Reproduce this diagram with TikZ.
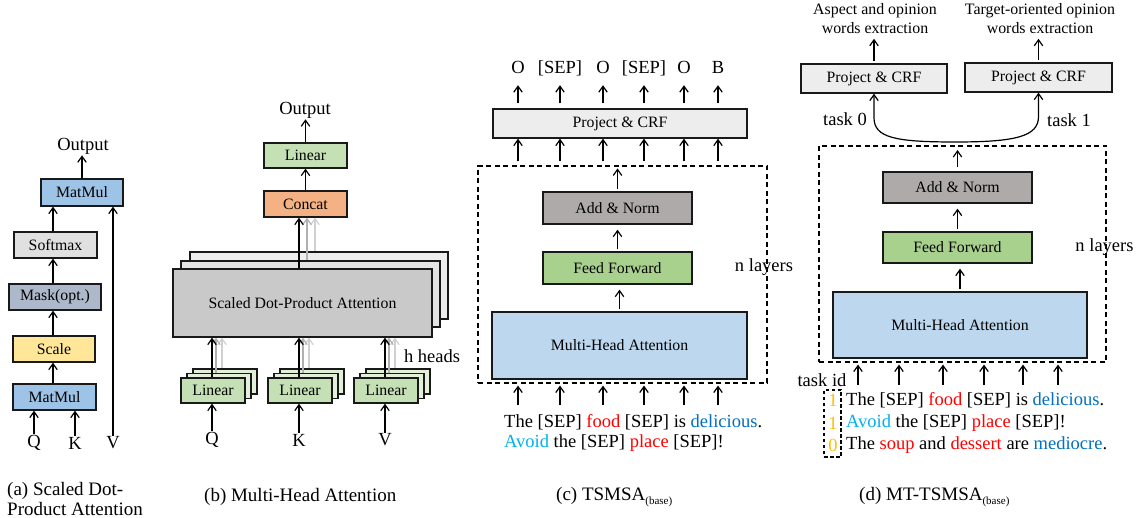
\documentclass[tikz,border=0pt]{standalone}
\usepackage{fontspec}
\setmainfont{Liberation Serif}
\usetikzlibrary{arrows.meta}
\definecolor{cMat}{HTML}{9DC3E6}
\definecolor{cSoft}{HTML}{E0E0E0}
\definecolor{cMask}{HTML}{ADB9CA}
\definecolor{cScale}{HTML}{FFE699}
\definecolor{cLin}{HTML}{C5E0B4}
\definecolor{cLinL}{HTML}{E2F0D9}
\definecolor{cCat}{HTML}{F4B183}
\definecolor{cSA}{HTML}{C9C9C9}
\definecolor{cSB}{HTML}{E4E4E4}
\definecolor{cSC}{HTML}{EDEDED}
\definecolor{cPC}{HTML}{EDEDED}
\definecolor{cAN}{HTML}{AEAAAA}
\definecolor{cFF}{HTML}{A9D18E}
\definecolor{cMHA}{HTML}{BDD7EE}
\definecolor{cRed}{HTML}{FF0000}
\definecolor{cBlue}{HTML}{0070C0}
\definecolor{cCyan}{HTML}{00B0F0}
\definecolor{cOrange}{HTML}{FFC000}
\definecolor{gOne}{HTML}{B0B0B0}
\definecolor{gTwo}{HTML}{D0D0D0}
\newcommand\blkfont{\fontsize{15.8}{18}\selectfont}
\newcommand\lblfont{\fontsize{18.5}{21.5}\selectfont}
\newcommand\hdfont{\fontsize{15.9}{19}\selectfont}
\newcommand\capfont{\fontsize{19}{20}\selectfont}
\tikzset{
  tip/.tip={Straight Barb[length=6pt,width=8.5pt,line width=1.2pt]},
  blk/.style={draw=black!90, line width=1.35pt, inner sep=0pt, font=\blkfont},
  arr/.style={-tip, line width=1.2pt},
  iarr/.style={arr, shorten <=2pt, shorten >=5pt},
  lbl/.style={font=\lblfont, inner sep=1pt},
  dbox/.style={draw, line width=1.1pt, dash pattern=on 5pt off 3.5pt},
  olbl/.style={lbl, text height=13pt, text depth=4pt, anchor=base}
}
\begin{document}
\begin{tikzpicture}[x=1pt,y=-1pt]
\useasboundingbox[fill=white] (0,0) rectangle (1144,518);

% ---------------- (a) ----------------
\node[lbl] (aout) at (83,146) {Output};
\node[blk, fill=cMat, minimum width=82pt, minimum height=27pt] (amm2) at (82,192.5) {MatMul};
\node[blk, fill=cSoft, minimum width=83pt, minimum height=26pt] (asm) at (55.5,245) {Softmax};
\node[blk, fill=cMask, minimum width=92pt, minimum height=26pt] (amk) at (55,297) {Mask(opt.)};
\node[blk, fill=cScale, minimum width=82pt, minimum height=26pt] (asc) at (54,349) {Scale};
\node[blk, fill=cMat, minimum width=83pt, minimum height=26pt] (amm1) at (54.5,397) {MatMul};
\node[lbl] (aq) at (34,443) {Q};
\node[lbl] (ak) at (75,443) {K};
\node[lbl] (av) at (113,443) {V};
\coordinate (acol) at (53,0);
\draw[arr] (amm2.north) -- (amm2.north |- aout.south);
\draw[arr] (asm.north -| acol) -- (amm2.south -| acol);
\draw[arr] (amk.north -| acol) -- (asm.south -| acol);
\draw[arr] (asc.north -| acol) -- (amk.south -| acol);
\draw[arr] (amm1.north -| acol) -- (asc.south -| acol);
\draw[arr] (aq.north) -- (aq.north |- amm1.south);
\draw[arr] (ak.north) -- (ak.north |- amm1.south);
\draw[arr] (av.north) -- (av.north |- amm2.south);
\node[lbl, anchor=west, align=left, font=\capfont] (capa) at (6,499) {(a) Scaled Dot-\\Product Attention};

% ---------------- (b) ----------------
\node[lbl] (bout) at (305,110) {Output};
\node[blk, fill=cLin, minimum width=83pt, minimum height=25pt] (blin) at (305.5,155.5) {Linear};
\node[blk, fill=cCat, minimum width=83pt, minimum height=26pt] (bcat) at (305.5,204) {Concat};
\node[blk, fill=cSC, minimum width=258pt, minimum height=67pt] (bs3) at (319,285.5) {};
\node[blk, fill=cSB, minimum width=259pt, minimum height=66pt] (bs2) at (310.5,294) {};
\node[blk, fill=cSA, minimum width=259pt, minimum height=68pt] (bs1) at (302.5,303) {Scaled Dot-Product Attention};
\foreach \n/\cx/\t in {q/213/Q,k/300/K,v/386/V}{
  \node[blk, fill=cLinL, minimum width=64pt, minimum height=25pt] (bl\n3) at (\cx+12,381.5) {};
  \node[blk, fill=cLinL, minimum width=64pt, minimum height=25pt] (bl\n2) at (\cx+6,386) {};
  \node[blk, fill=cLin, minimum width=64pt, minimum height=25pt] (bl\n1) at (\cx,390.5) {Linear};
  \node[lbl] (b\n) at (\cx-1,440) {\t};
  \draw[arr] (b\n.north) -- (b\n.north |- bl\n1.south);
  \draw[arr, gTwo] ([xshift=-3pt]bl\n3.north) -- ([xshift=-3pt]bl\n3.north |- bs1.south);
  \draw[arr, gOne] ([xshift=-3pt]bl\n2.north) -- ([xshift=-3pt]bl\n2.north |- bs1.south);
  \draw[arr] ([xshift=-1pt]bl\n1.north) -- ([xshift=-1pt]bl\n1.north |- bs1.south);
}
\draw[arr, gTwo] ([xshift=-4pt]bs3.north) -- ([xshift=-4pt]bs3.north |- bcat.south);
\draw[arr, gOne] ([xshift=-3.5pt]bs2.north) -- ([xshift=-3.5pt]bs2.north |- bcat.south);
\draw[arr] ([xshift=-3.5pt]bs1.north) -- ([xshift=-3.5pt]bs1.north |- bcat.south);
\draw[arr] (bcat.north) -- (blin.south);
\draw[arr] (blin.north) -- (blin.north |- bout.south);
\node[lbl] (bh) at (432,356) {h heads};
\node[lbl, anchor=west, font=\capfont] (capb) at (203,497) {(b) Multi-Head Attention};

% ---------------- (c) ----------------
\node[dbox, minimum width=289pt, minimum height=217pt] (cdash) at (622.5,274.5) {};
\node[blk, fill=cPC, minimum width=254pt, minimum height=29pt] (cpc) at (620,123.5) {Project \& CRF};
\node[blk, fill=cAN, minimum width=149pt, minimum height=32pt] (can) at (617.5,208) {Add \& Norm};
\node[blk, fill=cFF, minimum width=149pt, minimum height=32pt] (cff) at (617.5,268) {Feed Forward};
\node[blk, fill=cMHA, minimum width=255pt, minimum height=67pt] (cmha) at (619.5,345.5) {Multi-Head Attention};
\foreach \i/\x/\t in {1/518/O,2/560/{[SEP]},3/603/O,4/644/{[SEP]},5/684/O,6/718/B}{
  \coordinate (cc\i) at (\x,405);
  \node[olbl] (co\i) at (\x,74) {\t};
  \draw[arr, shorten >=2pt] (cc\i) -- (cc\i |- cdash.south);
  \draw[arr, shorten <=4pt] (cdash.north -| cc\i) -- (cpc.south -| cc\i);
  \draw[arr, shorten <=5pt, shorten >=6pt] (cpc.north -| cc\i) -- (co\i.south -| cc\i);
}
\draw[arr, shorten <=2pt, shorten >=3pt] (can.north) -- (can.north |- cdash.north);
\draw[iarr] (cff.north) -- (cff.north |- can.south);
\draw[iarr] (cmha.north) -- (cmha.north |- cff.south);
\node[lbl] (cn) at (764,267) {n layers};
\node[lbl, anchor=west] (ct1) at (503,422) {The [SEP] \textcolor{cRed}{food} [SEP] is \textcolor{cBlue}{delicious}.};
\node[lbl, anchor=west] (ct2) at (503,443) {\textcolor{cCyan}{Avoid} the [SEP] \textcolor{cRed}{place} [SEP]!};
\node[lbl, anchor=west, font=\capfont] (capc) at (555,497) {(c) TSMSA\raisebox{-4pt}{\fontsize{11}{12}\selectfont (base)}};

% ---------------- (d) ----------------
\node[lbl, align=center, font=\hdfont] (dh0) at (875,18.5) {Aspect and opinion\\words extraction};
\node[lbl, align=center, font=\hdfont] (dh1) at (1040,18.5) {Target-oriented opinion\\words extraction};
\node[blk, fill=cPC, minimum width=146pt, minimum height=29pt] (dp0) at (874,78.5) {Project \& CRF};
\node[blk, fill=cPC, minimum width=147pt, minimum height=29pt] (dp1) at (1038.5,77.5) {Project \& CRF};
\draw[arr, shorten <=2pt, shorten >=4pt] (dp0.north) -- (dp0.north |- dh0.south);
\draw[arr, shorten <=2pt, shorten >=4pt] (dp1.north) -- (dp1.north |- dh1.south);
\coordinate (dcv) at (955,142);
\draw[line width=1.2pt, tip-tip]
  (dp0.south) -- ++(0,24) .. controls +(0,20) and +(-60,0) .. (dcv)
  .. controls +(60,0) and +(0,20) .. ([yshift=-24pt]dp1.south) -- (dp1.south);
\node[lbl] (dt0) at (845,119) {task 0};
\node[lbl] (dt1) at (1069,120) {task 1};
\node[dbox, minimum width=287pt, minimum height=216pt] (ddash) at (962.5,254) {};
\node[blk, fill=cAN, minimum width=149pt, minimum height=31pt] (dan) at (957.5,187.5) {Add \& Norm};
\node[blk, fill=cFF, minimum width=149pt, minimum height=31pt] (dff) at (957.5,247.5) {Feed Forward};
\node[blk, fill=cMHA, minimum width=254pt, minimum height=66pt] (dmha) at (960,325) {Multi-Head Attention};
\draw[arr, shorten <=4pt, shorten >=8pt] (dan.north) -- (dan.north |- dcv);
\draw[iarr] (dff.north) -- (dff.north |- dan.south);
\draw[iarr] (dmha.north) -- (dmha.north |- dff.south);
\node[lbl] (dn) at (1104.5,247) {n layers};
\foreach \i/\x in {1/858,2/899,3/943,4/984,5/1023,6/1058}{
  \coordinate (dc\i) at (\x,385);
  \draw[arr, shorten >=2pt] (dc\i) -- (dc\i |- ddash.south);
}
\node[lbl] (dtid) at (822,380) {task id};
\node[draw, line width=1.1pt, dash pattern=on 3.5pt off 2.5pt, minimum width=17pt, minimum height=67pt, inner sep=0pt] (dsb) at (832.5,423.5) {};
\node[lbl, text=cOrange] (dn1) at (833,400) {1};
\node[lbl, text=cOrange] (dn2) at (833,423) {1};
\node[lbl, text=cOrange] (dn3) at (833,445) {0};
\node[lbl, anchor=west] (dl1) at (845,400) {The [SEP] \textcolor{cRed}{food} [SEP] is \textcolor{cBlue}{delicious}.};
\node[lbl, anchor=west] (dl2) at (845,423) {\textcolor{cCyan}{Avoid} the [SEP] \textcolor{cRed}{place} [SEP]!};
\node[lbl, anchor=west] (dl3) at (845,445) {The \textcolor{cRed}{soup} and \textcolor{cRed}{dessert} are \textcolor{cBlue}{mediocre}.};
\node[lbl, anchor=west, font=\capfont] (capd) at (858,497) {(d) MT-TSMSA\raisebox{-4pt}{\fontsize{11}{12}\selectfont (base)}};
\end{tikzpicture}
\end{document}
